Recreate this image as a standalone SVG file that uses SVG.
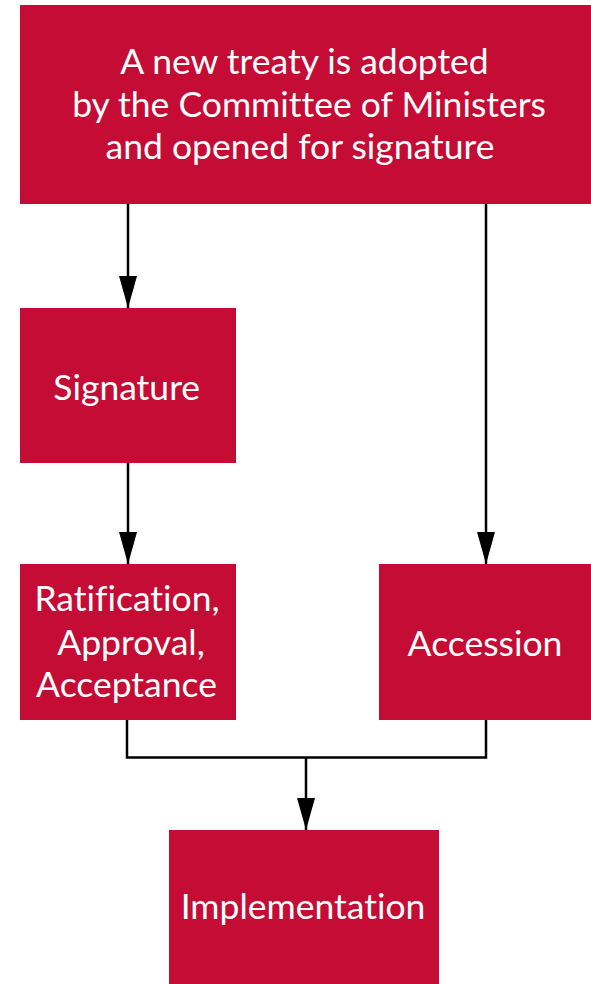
<svg xmlns="http://www.w3.org/2000/svg" width="591" height="984" viewBox="0 0 591 984">
<style>
.box{fill:#C40C35}
.t{font-family:Lato,"Open Sans","DejaVu Sans",sans-serif;font-size:35.5px;fill:#ffffff;text-anchor:middle;font-variant-ligatures:none;font-feature-settings:"liga" 0}
.c{stroke:#000;stroke-width:2.5;fill:none}
</style>
<defs>
<marker id="ah" viewBox="0 0 32 18" refX="32" refY="9" markerWidth="32" markerHeight="18" markerUnits="userSpaceOnUse" orient="auto">
<path d="M0,0 L32,9 L0,18 z" fill="#000"/>
</marker>
</defs>
<g id="connectors">
<path class="c" d="M128,204 V308" marker-end="url(#ah)"/>
<path class="c" d="M486,204 V564" marker-end="url(#ah)"/>
<path class="c" d="M128,463 V564" marker-end="url(#ah)"/>
<path class="c" d="M127,720 V757.5 H486 V720"/>
<path class="c" d="M306,757.5 V830" marker-end="url(#ah)"/>
</g>
<g id="node-adopted">
<rect class="box" x="20" y="5" width="571" height="199"/>
<text class="t" x="304.5" y="74">A new treaty is adopted</text>
<text class="t" x="309" y="117">by the Committee of Ministers</text>
<text class="t" x="300" y="159">and opened for signature</text>
</g>
<g id="node-signature">
<rect class="box" x="20" y="308" width="216" height="155"/>
<text class="t" x="126.7" y="400">Signature</text>
</g>
<g id="node-ratification">
<rect class="box" x="20" y="564" width="216" height="156"/>
<text class="t" x="127" y="611">Ratification,</text>
<text class="t" x="131" y="655">Approval,</text>
<text class="t" x="126.5" y="697">Acceptance</text>
</g>
<g id="node-accession">
<rect class="box" x="379" y="564" width="212" height="156"/>
<text class="t" x="485" y="655.5">Accession</text>
</g>
<g id="node-implementation">
<rect class="box" x="169" y="830" width="270" height="154"/>
<text class="t" x="303" y="919">Implementation</text>
</g>
</svg>
